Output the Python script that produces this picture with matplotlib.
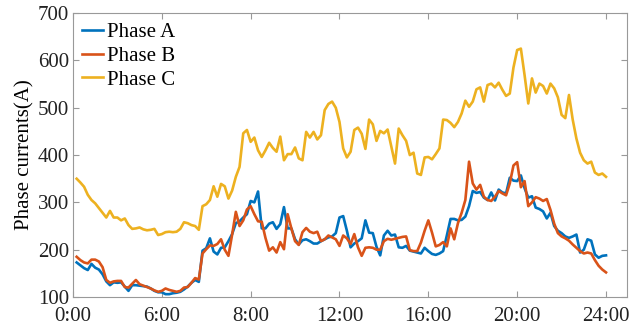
import numpy as np
import matplotlib
matplotlib.use('Agg')
import matplotlib.pyplot as plt

# 10-minute samples, 0:10 ... 24:00
hours = np.arange(1, 145) / 6.0

phase_a = [173, 167, 161, 157, 170, 162, 158, 148, 133, 125, 131, 130, 131, 122, 113, 125,
           125, 124, 123, 122, 118, 113, 110, 110, 106, 106, 108, 109, 111, 116, 122, 130,
           136, 132, 198, 203, 224, 196, 190, 204, 205, 218, 233, 256, 260, 268, 275, 303,
           300, 323, 245, 245, 255, 258, 244, 254, 290, 245, 245, 222, 211, 220, 222, 218,
           213, 213, 218, 222, 226, 228, 235, 268, 271, 240, 205, 213, 218, 224, 262, 236,
           235, 206, 188, 230, 240, 230, 232, 205, 204, 208, 198, 196, 194, 192, 204, 197,
           191, 189, 192, 197, 230, 265, 265, 262, 263, 270, 292, 324, 320, 322, 310, 305,
           321, 304, 327, 321, 319, 352, 346, 345, 357, 330, 310, 313, 289, 286, 281, 266,
           278, 250, 240, 235, 228, 225, 228, 232, 194, 200, 222, 219, 190, 183, 187, 188]

phase_b = [185, 178, 173, 171, 179, 179, 175, 163, 136, 130, 133, 134, 134, 121, 120, 128,
           136, 127, 124, 121, 118, 114, 111, 113, 118, 115, 113, 111, 113, 120, 121, 130,
           140, 137, 192, 201, 209, 208, 212, 222, 200, 187, 232, 280, 250, 262, 285, 292,
           275, 260, 259, 225, 198, 205, 194, 216, 201, 275, 245, 218, 210, 237, 246, 238,
           235, 238, 218, 222, 230, 226, 222, 208, 230, 224, 212, 233, 205, 187, 204, 205,
           204, 200, 200, 218, 223, 221, 223, 225, 227, 228, 199, 197, 197, 215, 240, 262,
           236, 207, 210, 216, 207, 245, 222, 256, 278, 305, 386, 340, 327, 337, 312, 305,
           303, 312, 324, 319, 315, 340, 378, 385, 332, 345, 292, 300, 311, 308, 303, 307,
           284, 255, 235, 228, 224, 219, 211, 204, 197, 192, 194, 192, 178, 166, 158, 152]

phase_c = [350, 342, 333, 316, 305, 298, 288, 278, 268, 282, 268, 268, 262, 266, 252, 244,
           245, 247, 243, 241, 242, 244, 231, 233, 237, 238, 237, 238, 244, 258, 256, 252,
           250, 242, 292, 296, 305, 334, 312, 339, 334, 308, 325, 354, 375, 446, 453, 428,
           437, 410, 396, 410, 426, 415, 407, 439, 389, 402, 402, 416, 393, 389, 449, 437,
           449, 433, 442, 495, 508, 513, 500, 470, 414, 395, 407, 453, 458, 445, 413, 475,
           465, 430, 451, 446, 454, 418, 382, 456, 442, 430, 400, 405, 361, 358, 395, 396,
           391, 402, 414, 475, 474, 468, 459, 470, 488, 515, 502, 513, 539, 543, 513, 548,
           551, 543, 553, 538, 525, 530, 585, 622, 625, 569, 509, 562, 532, 551, 546, 530,
           551, 541, 522, 485, 478, 527, 475, 435, 405, 389, 382, 386, 363, 358, 361, 354]

tick_pos = [0, 4, 8, 12, 16, 20, 24]
tick_labels = ['0:00', '6:00', '8:00', '12:00', '16:00', '20:00', '24:00']

plt.rcParams['font.family'] = ['Liberation Serif', 'DejaVu Serif']
plt.rcParams['font.size'] = 15

fig = plt.figure(figsize=(6.29, 3.28), dpi=100)
ax = fig.add_axes([0.116, 0.0945, 0.881, 0.8655])

ax.plot(hours, phase_a, color='#0072BD', lw=1.9, label='Phase A')
ax.plot(hours, phase_b, color='#D95319', lw=1.9, label='Phase B')
ax.plot(hours, phase_c, color='#EDB120', lw=1.9, label='Phase C')

ax.set_xlim(0, 24.95)
ax.set_ylim(100, 700)
ax.set_xticks(tick_pos)
ax.set_xticklabels(tick_labels)
ax.set_yticks(range(100, 701, 100))
ax.set_ylabel('Phase currents(A)', labelpad=2)

for s in ax.spines.values():
    s.set_color('#999999')
    s.set_linewidth(0.8)
ax.tick_params(direction='in', length=4, width=0.8, color='#999999',
               top=True, right=True, labelcolor='#222222', pad=3)
ax.tick_params(axis='x', pad=7)

ax.legend(loc='upper left', frameon=False, handlelength=1.0, handletextpad=0.2,
          labelspacing=0.2, borderpad=0.1, borderaxespad=0.35, fontsize=15)

fig.savefig('out.png', dpi=100)
